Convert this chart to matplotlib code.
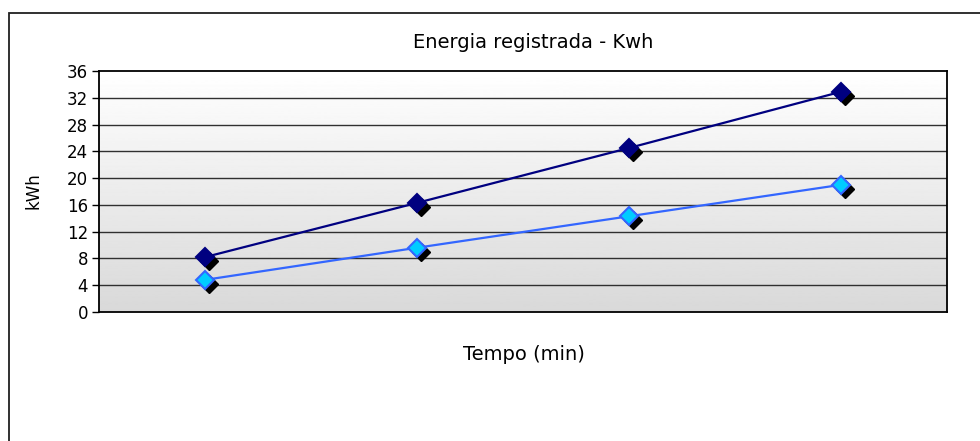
import numpy as np
import matplotlib.pyplot as plt
from matplotlib import transforms
from matplotlib.patches import Rectangle

plt.rcParams['font.family'] = ['DejaVu Sans']

# data
tempo = [1, 2, 3, 4]
energia_a = [8.2, 16.3, 24.5, 32.9]
energia_b = [4.8, 9.6, 14.3, 19.0]
y_ticks = [0, 4, 8, 12, 16, 20, 24, 28, 32, 36]

fig = plt.figure(figsize=(9.8, 4.41), dpi=100)
ax = fig.add_axes([99 / 980, 1 - 312 / 441, 848 / 980, 241 / 441])

# outer chart frame (cut off at right and bottom)
fig.patches.append(Rectangle((8.5 / 980, -0.2), 1.2, 1.2 - 13 / 441,
                             transform=fig.transFigure, fill=False,
                             edgecolor='#202020', linewidth=1.3))

# gradient background: white at top to light grey at bottom
grad = np.linspace(1.0, 0.85, 256).reshape(-1, 1)
ax.imshow(grad, cmap='gray', vmin=0, vmax=1, aspect='auto',
          extent=[0, 1, 0, 1], transform=ax.transAxes, zorder=0)

x = np.arange(len(tempo))
shadow = transforms.offset_copy(ax.transData, fig=fig, x=3, y=-3, units='points')

for y, line_c, face_c, edge_c in [(energia_a, '#000080', '#000080', '#000080'),
                                 (energia_b, '#3366FF', '#00CCFF', '#3366FF')]:
    ax.plot(x, y, color=line_c, linewidth=1.6, zorder=3)
    ax.plot(x, y, linestyle='none', marker='D', markersize=9.5,
            color='black', transform=shadow, zorder=4)
    ax.plot(x, y, linestyle='none', marker='D', markersize=9.5,
            markerfacecolor=face_c, markeredgecolor=edge_c,
            markeredgewidth=1.5, zorder=5)

ax.set_xlim(-0.5, 3.5)
ax.set_ylim(0, 36)
ax.set_yticks(y_ticks)
ax.set_xticks([])
ax.tick_params(axis='y', direction='out', length=5, width=1, labelsize=12, pad=3)
for yy in y_ticks[1:-1]:
    ax.axhline(yy, color='#303030', linewidth=1, zorder=1)
for s in ax.spines.values():
    s.set_linewidth(1.3)
    s.set_color('black')

fig.text(533 / 980, 1 - 43 / 441, 'Energia registrada - Kwh', ha='center', va='center', fontsize=14)
fig.text(524 / 980, 1 - 355 / 441, 'Tempo (min)', ha='center', va='center', fontsize=14)
fig.text(33 / 980, 1 - 191 / 441, 'kWh', ha='center', va='center', rotation=90, fontsize=12)

fig.savefig('out.png', dpi=100)
